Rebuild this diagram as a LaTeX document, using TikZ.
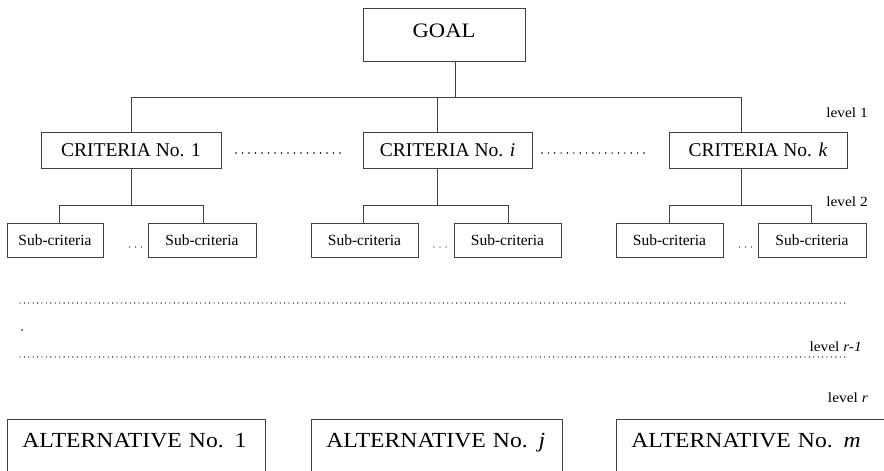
\documentclass[tikz,border=0pt]{standalone}
\usepackage{fontspec}
\setmainfont{Liberation Serif}
\newfontfamily\widefont[FakeStretch=1.1]{Liberation Serif}
\begin{document}
\begin{tikzpicture}[x=1pt,y=-1pt,
  box/.style={draw=black!75, line width=0.8pt, inner sep=0pt},
  conn/.style={draw=black!75, line width=0.8pt},
  critbox/.style={box, minimum height=36pt, font=\fontsize{19.5}{22}\selectfont},
  subbox/.style={box, minimum height=34pt, font=\fontsize{15.5}{18}\selectfont},
  altbox/.style={box, anchor=north west, align=left, inner xsep=15pt, inner ysep=0pt,
     text height=28pt, text depth=30pt, font=\widefont\fontsize{21.5}{24}\selectfont},
  lvl/.style={anchor=east, inner sep=0pt, font=\widefont\fontsize{14}{16}\selectfont},
  dotrow/.style={line width=1.35pt, line cap=round, dash pattern=on 0pt off 4.41pt}]
\clip (0,0) rectangle (884,471);
\fill[white] (0,0) rectangle (884,471);

% goal
\node[box, minimum width=162pt, minimum height=53pt, text height=13.5pt, text depth=8.5pt,
      font=\widefont\fontsize{20.5}{24}\selectfont] (goal) at (444,34.5) {GOAL};

% criteria
\node[critbox, minimum width=180pt] (c1) at (131,150) {CRITERIA No. 1};
\node[critbox, minimum width=169pt] (ci) at (447.5,150) {CRITERIA No. \textit{i}};
\node[critbox, minimum width=178pt] (ck) at (758,150) {CRITERIA No. \textit{k}};

% sub-criteria
\node[subbox, minimum width=96pt]  (s1a) at (55,240)    {Sub-criteria};
\node[subbox, minimum width=108pt] (s1b) at (202,240)   {Sub-criteria};
\node[subbox, minimum width=107pt] (s2a) at (364.5,240) {Sub-criteria};
\node[subbox, minimum width=107pt] (s2b) at (507.5,240) {Sub-criteria};
\node[subbox, minimum width=107pt] (s3a) at (669.5,240) {Sub-criteria};
\node[subbox, minimum width=108pt] (s3b) at (812,240)   {Sub-criteria};

% alternatives
\node[altbox, text width=228pt] (a1) at (7,419)   {ALTERNATIVE No. 1};
\node[altbox, text width=221pt] (aj) at (311,419) {ALTERNATIVE No. \textit{j}};
\node[altbox, text width=254pt] (am) at (616,419) {ALTERNATIVE No. \textit{m}};

% level labels
\node[lvl] (lv1) at (868,113) {level 1};
\node[lvl] (lv2) at (868,202) {level 2};
\node[lvl] (lvr1) at (862,347) {level \textit{r-1}};
\node[lvl] (lvr) at (868,398) {level \textit{r}};

% connectors goal -> criteria
\coordinate (hub) at (455,97);
\coordinate (b1) at (131,97);
\coordinate (bi) at (437,97);
\coordinate (bk) at (741,97);
\draw[conn] (goal.south -| hub) -- (hub);
\draw[conn] (b1) -- (bk);
\draw[conn] (b1) -- (b1 |- c1.north);
\draw[conn] (bi) -- (bi |- ci.north);
\draw[conn] (bk) -- (bk |- ck.north);

% connectors criteria -> sub-criteria
\coordinate (j1) at (131,205);
\coordinate (ji) at (437,205);
\coordinate (jk) at (741,205);
\coordinate (l1) at (59,205);   \coordinate (r1) at (203,205);
\coordinate (l2) at (363,205);  \coordinate (r2) at (508,205);
\coordinate (l3) at (669,205);  \coordinate (r3) at (811,205);
\draw[conn] (j1 |- c1.south) -- (j1);
\draw[conn] (ji |- ci.south) -- (ji);
\draw[conn] (jk |- ck.south) -- (jk);
\draw[conn] (l1 |- s1a.north) -- (l1) -- (r1) -- (r1 |- s1b.north);
\draw[conn] (l2 |- s2a.north) -- (l2) -- (r2) -- (r2 |- s2b.north);
\draw[conn] (l3 |- s3a.north) -- (l3) -- (r3) -- (r3 |- s3b.north);

% dots between criteria
\foreach \i in {0,...,16} {
  \fill (236+\i*6.5,153) circle (0.8pt);
  \fill (542+\i*6.375,153) circle (0.8pt);
}
% dots between sub-criteria
\foreach \cx in {135.5,440,745.5} {
  \foreach \d in {-6,0,6} { \fill (\cx+\d,247) circle (0.7pt); }
}

% dotted rows
\draw[dotrow] (20,303) -- (849,303);
\fill (22,330) circle (0.85pt);
\draw[dotrow] (20,357) -- (849,357);
\end{tikzpicture}
\end{document}
